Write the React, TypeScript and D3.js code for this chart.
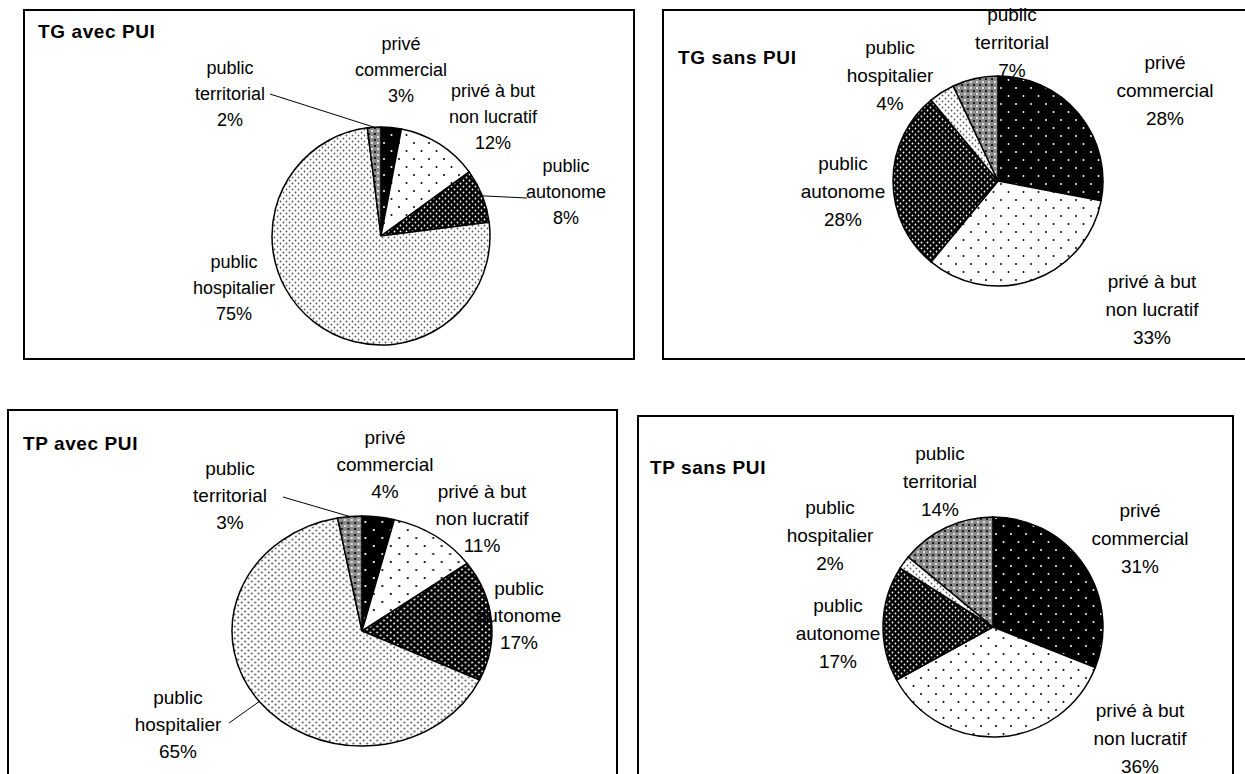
import React from "react";
import * as d3 from "d3";

const categories = ["privé commercial", "privé à but non lucratif", "public autonome", "public hospitalier", "public territorial"];
const labelLines = [["privé", "commercial"], ["privé à but", "non lucratif"], ["public", "autonome"], ["public", "hospitalier"], ["public", "territorial"]];
const patternIds = ["pCom", "pNon", "pAut", "pHos", "pTer"];
const titles = ["TG avec PUI", "TG sans PUI", "TP avec PUI", "TP sans PUI"];
const tgAvecPui = [3, 12, 8, 75, 2];
const tgSansPui = [28, 33, 28, 4, 7];
const tpAvecPui = [4, 11, 17, 65, 3];
const tpSansPui = [31, 36, 17, 2, 14];
const seriesList = [tgAvecPui, tgSansPui, tpAvecPui, tpSansPui];

const FONT = "Arial, 'Liberation Sans', sans-serif";

type Layout = {
  box: [number, number, number, number];
  title: [number, number];
  center: [number, number];
  r: number;
  sx: number;
  fs: number;
  lh: number;
  labels: [number, number][];
  leaders: { i: number; from: [number, number] }[];
};

const layouts: Layout[] = [
  {
    box: [24, 10, 634, 359], title: [38, 31], center: [381, 236], r: 109, sx: 1, fs: 18, lh: 26,
    labels: [[401, 44], [493, 91], [566, 166], [234, 262], [230, 68]],
    leaders: [{ i: 4, from: [270, 94] }, { i: 2, from: [527, 198] }],
  },
  {
    box: [663, 10, 1260, 359], title: [678, 57], center: [998, 181], r: 105, sx: 1, fs: 19, lh: 28,
    labels: [[1165, 62], [1152, 281], [843, 163], [890, 47], [1012, 14]],
    leaders: [],
  },
  {
    box: [8, 410, 617, 800], title: [23, 443], center: [362, 631], r: 115, sx: 1.13, fs: 19, lh: 27,
    labels: [[385, 437], [482, 491], [519, 588], [178, 697], [230, 468]],
    leaders: [{ i: 4, from: [283, 497] }, { i: 3, from: [229, 723] }],
  },
  {
    box: [638, 416, 1233, 800], title: [650, 467], center: [993, 627], r: 110, sx: 1, fs: 19, lh: 28,
    labels: [[1140, 510], [1140, 710], [838, 605], [830, 507], [940, 453]],
    leaders: [],
  },
];

function Patterns() {
  return (
    <defs>
      <pattern id="pCom" width="15" height="16" patternUnits="userSpaceOnUse">
        <rect width="15" height="16" fill="#000" />
        <circle cx="3" cy="3" r="1" fill="#fff" />
        <circle cx="10.5" cy="11" r="1" fill="#fff" />
      </pattern>
      <pattern id="pNon" width="15" height="16" patternUnits="userSpaceOnUse">
        <rect width="15" height="16" fill="#fff" />
        <circle cx="3" cy="3" r="1" fill="#000" />
        <circle cx="10.5" cy="11" r="1" fill="#000" />
      </pattern>
      <pattern id="pAut" width="6" height="6" patternUnits="userSpaceOnUse">
        <rect width="6" height="6" fill="#000" />
        <circle cx="1.5" cy="1.5" r="0.9" fill="#fff" />
        <circle cx="4.5" cy="4.5" r="0.9" fill="#fff" />
      </pattern>
      <pattern id="pHos" width="6" height="6" patternUnits="userSpaceOnUse">
        <rect width="6" height="6" fill="#fff" />
        <circle cx="1.5" cy="1.5" r="0.9" fill="#555" />
        <circle cx="4.5" cy="4.5" r="0.9" fill="#555" />
      </pattern>
      <pattern id="pTer" width="6" height="6" patternUnits="userSpaceOnUse">
        <rect width="6" height="6" fill="#8a8a8a" />
        <circle cx="3" cy="3" r="1" fill="#fff" />
        <circle cx="0" cy="0" r="1.1" fill="#000" />
        <circle cx="6" cy="0" r="1.1" fill="#000" />
        <circle cx="0" cy="6" r="1.1" fill="#000" />
        <circle cx="6" cy="6" r="1.1" fill="#000" />
      </pattern>
    </defs>
  );
}

function Panel({ values, title, L }: { values: number[]; title: string; L: Layout }) {
  const pie = d3.pie<number>().sort(null).value((d) => d);
  const arcs = pie(values);
  const arc = d3.arc<d3.PieArcDatum<number>>().innerRadius(0).outerRadius(L.r);
  const [bx0, by0, bx1, by1] = L.box;
  const [cx, cy] = L.center;
  const edge = (i: number): [number, number] => {
    const a = (arcs[i].startAngle + arcs[i].endAngle) / 2;
    return [cx + Math.sin(a) * L.r * L.sx, cy - Math.cos(a) * L.r];
  };
  return (
    <g>
      <rect x={bx0} y={by0} width={bx1 - bx0} height={by1 - by0} fill="#fff" stroke="#000" strokeWidth={2} />
      <text x={L.title[0]} y={L.title[1]} fontFamily={FONT} fontWeight="bold" fontSize={19} dominantBaseline="central" letterSpacing={0.6}>
        {title}
      </text>
      <g transform={`translate(${cx},${cy}) scale(${L.sx},1)`}>
        {arcs.map((a, i) => (
          <path key={i} d={arc(a) || ""} fill={`url(#${patternIds[i]})`} stroke="#000" strokeWidth={1.5} vectorEffect="non-scaling-stroke" />
        ))}
      </g>
      {L.leaders.map((ld, k) => {
        const [ex, ey] = edge(ld.i);
        return <line key={k} x1={ld.from[0]} y1={ld.from[1]} x2={ex} y2={ey} stroke="#000" strokeWidth={1} />;
      })}
      {categories.map((c, i) => {
        const [lx, ly] = L.labels[i];
        const lines = [...labelLines[i], `${values[i]}%`];
        return (
          <text key={c} fontFamily={FONT} fontSize={L.fs} textAnchor="middle" fill="#000">
            {lines.map((t, k) => (
              <tspan key={k} x={lx} y={ly + k * L.lh} dominantBaseline="central">{t}</tspan>
            ))}
          </text>
        );
      })}
    </g>
  );
}

export default function App() {
  return (
    <svg width={1245} height={774} style={{ position: "absolute", left: 0, top: 0, background: "#fff" }}>
      <Patterns />
      <rect width={1245} height={774} fill="#fff" />
      {seriesList.map((s, i) => (
        <Panel key={i} values={s} title={titles[i]} L={layouts[i]} />
      ))}
    </svg>
  );
}
